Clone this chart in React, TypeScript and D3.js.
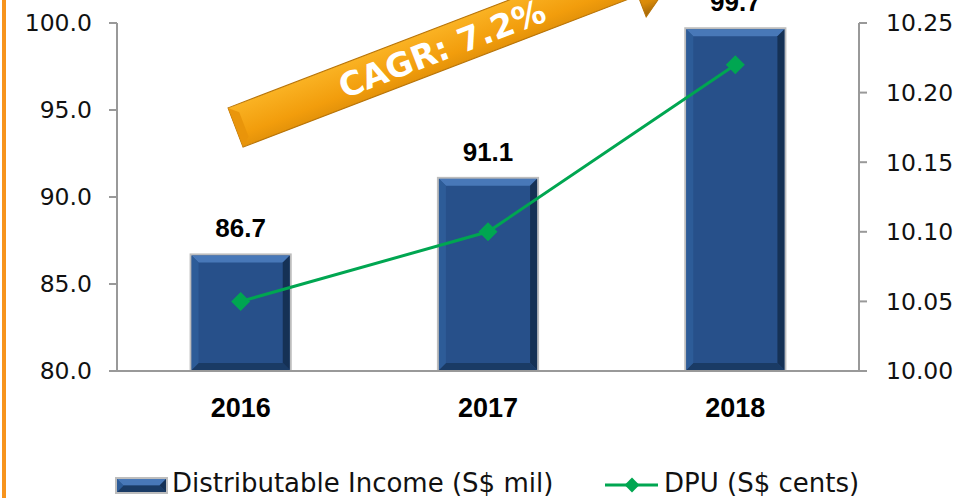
import React, { useEffect, useRef } from 'react';
import * as d3 from 'd3';

// Chart data
const YEARS = ['2016', '2017', '2018'];
const DISTRIBUTABLE_INCOME = [86.7, 91.1, 99.7];
const DPU = [10.05, 10.1, 10.22];
const LEFT_TICKS = [80, 85, 90, 95, 100];
const RIGHT_TICKS = [10.0, 10.05, 10.1, 10.15, 10.2, 10.25];
const CAGR_LABEL = 'CAGR: 7.2%';
const LEGEND_LABELS = ['Distributable Income (S$ mil)', 'DPU (S$ cents)'];

const WIDTH = 963;
const HEIGHT = 498;

const BAR_BLUE = '#27508a';
const LINE_GREEN = '#00a651';
const AXIS_GREY = '#999999';
const FONT = 'DejaVu Sans, sans-serif';
const BOLD_FONT = 'Liberation Sans, Arial, sans-serif';

const App: React.FC = () => {
  const svgRef = useRef<SVGSVGElement>(null);

  useEffect(() => {
    document.body.style.margin = '0';
    if (!svgRef.current) return;
    const svg = d3.select(svgRef.current);
    svg.selectAll('*').remove();

    const plot = { left: 117, right: 859, top: 23, bottom: 371 };

    const x = d3.scaleBand<string>()
      .domain(YEARS)
      .range([plot.left, plot.right])
      .paddingInner(0.595)
      .paddingOuter(0.2975);

    const yLeft = d3.scaleLinear().domain([80, 100]).range([plot.bottom, plot.top]);
    const yRight = d3.scaleLinear().domain([10.0, 10.25]).range([plot.bottom, plot.top]);

    const defs = svg.append('defs');
    const arrowGrad = defs.append('linearGradient')
      .attr('id', 'arrow-grad')
      .attr('x1', 0).attr('y1', 0).attr('x2', 0).attr('y2', 1);
    [
      ['0%', '#ffd466'],
      ['22%', '#fbb526'],
      ['60%', '#f29d0c'],
      ['85%', '#d98a08'],
      ['100%', '#9c6207'],
    ].forEach(([o, c]) => arrowGrad.append('stop').attr('offset', o).attr('stop-color', c));

    // Orange page rule on the left
    svg.append('line')
      .attr('x1', 4).attr('x2', 4)
      .attr('y1', 0).attr('y2', HEIGHT)
      .attr('stroke', '#f7941d')
      .attr('stroke-width', 4);

    // Bars with bevel
    const bevel = 7;
    const drawBar = (g: d3.Selection<SVGGElement, unknown, null, undefined>, bx: number, by: number, bw: number, bh: number) => {
      g.append('rect')
        .attr('x', bx).attr('y', by).attr('width', bw).attr('height', bh)
        .attr('fill', BAR_BLUE)
        .attr('stroke', '#bdbdbd')
        .attr('stroke-width', 2);
      const x0 = bx + 1, x1 = bx + bw - 1, y0 = by + 1, y1 = by + bh - 1;
      const b = Math.min(bevel, bh / 2 - 1, bw / 2 - 1);
      const poly = (pts: [number, number][], fill: string, op: number) =>
        g.append('polygon')
          .attr('points', pts.map(p => p.join(',')).join(' '))
          .attr('fill', fill)
          .attr('opacity', op);
      poly([[x0, y0], [x1, y0], [x1 - b, y0 + b], [x0 + b, y0 + b]], '#4d7cbd', 0.9);
      poly([[x1, y0], [x1, y1], [x1 - b, y1 - b], [x1 - b, y0 + b]], '#142d4f', 0.9);
      poly([[x0, y1], [x1, y1], [x1 - b, y1 - b], [x0 + b, y1 - b]], '#1a3961', 0.9);
      poly([[x0, y0], [x0, y1], [x0 + b, y1 - b], [x0 + b, y0 + b]], '#2f5d99', 0.9);
    };

    const bars = svg.append('g');
    YEARS.forEach((yr, i) => {
      const bx = x(yr)!;
      const by = yLeft(DISTRIBUTABLE_INCOME[i]);
      drawBar(bars, bx, by, x.bandwidth(), plot.bottom - by);
    });

    // Value labels
    svg.append('g')
      .selectAll('text')
      .data(YEARS)
      .enter()
      .append('text')
      .attr('x', d => x(d)! + x.bandwidth() / 2)
      .attr('y', (d, i) => yLeft(DISTRIBUTABLE_INCOME[i]) - 17)
      .attr('text-anchor', 'middle')
      .attr('font-family', BOLD_FONT)
      .attr('font-weight', 'bold')
      .attr('font-size', '26px')
      .attr('fill', '#000')
      .text((d, i) => DISTRIBUTABLE_INCOME[i].toFixed(1));

    // Axes lines
    const axes = svg.append('g').attr('stroke', AXIS_GREY).attr('stroke-width', 2);
    axes.append('line')
      .attr('x1', plot.left).attr('x2', plot.left)
      .attr('y1', plot.top).attr('y2', plot.bottom);
    axes.append('line')
      .attr('x1', plot.right).attr('x2', plot.right)
      .attr('y1', plot.top).attr('y2', plot.bottom);
    axes.append('line')
      .attr('x1', plot.left - 8).attr('x2', plot.right + 8)
      .attr('y1', plot.bottom).attr('y2', plot.bottom);
    LEFT_TICKS.forEach(t => {
      axes.append('line')
        .attr('x1', plot.left - 8).attr('x2', plot.left)
        .attr('y1', yLeft(t)).attr('y2', yLeft(t));
    });
    RIGHT_TICKS.forEach(t => {
      axes.append('line')
        .attr('x1', plot.right).attr('x2', plot.right + 8)
        .attr('y1', yRight(t)).attr('y2', yRight(t));
    });

    // Tick labels
    svg.append('g')
      .selectAll('text')
      .data(LEFT_TICKS)
      .enter()
      .append('text')
      .attr('x', 92)
      .attr('y', d => yLeft(d))
      .attr('dy', '0.36em')
      .attr('text-anchor', 'end')
      .attr('font-family', FONT)
      .attr('font-size', '23.5px')
      .attr('fill', '#111')
      .text(d => d.toFixed(1));

    svg.append('g')
      .selectAll('text')
      .data(RIGHT_TICKS)
      .enter()
      .append('text')
      .attr('x', 886)
      .attr('y', d => yRight(d))
      .attr('dy', '0.36em')
      .attr('text-anchor', 'start')
      .attr('font-family', FONT)
      .attr('font-size', '23.5px')
      .attr('fill', '#111')
      .text(d => d.toFixed(2));

    // Category labels
    svg.append('g')
      .selectAll('text')
      .data(YEARS)
      .enter()
      .append('text')
      .attr('x', d => x(d)! + x.bandwidth() / 2)
      .attr('y', 417)
      .attr('text-anchor', 'middle')
      .attr('font-family', BOLD_FONT)
      .attr('font-weight', 'bold')
      .attr('font-size', '27px')
      .attr('fill', '#000')
      .text(d => d);

    // DPU line
    const pts: [number, number][] = YEARS.map((yr, i) => [x(yr)! + x.bandwidth() / 2, yRight(DPU[i])]);
    svg.append('path')
      .datum(pts)
      .attr('d', d3.line())
      .attr('fill', 'none')
      .attr('stroke', LINE_GREEN)
      .attr('stroke-width', 3);

    const diamond = d3.symbol().type(d3.symbolSquare).size(180);
    svg.append('g')
      .selectAll('path')
      .data(pts)
      .enter()
      .append('path')
      .attr('d', diamond)
      .attr('transform', d => `translate(${d[0]},${d[1]}) rotate(45)`)
      .attr('fill', LINE_GREEN);

    // CAGR arrow
    const arrow = svg.append('g')
      .attr('transform', 'translate(235.5,127.5) rotate(-21)');
    arrow.append('polygon')
      .attr('points', '0,-21 423,-21 423,-44 487,0 423,44 423,21 0,21')
      .attr('fill', 'url(#arrow-grad)')
      .attr('stroke', '#b87408')
      .attr('stroke-width', 1);
    arrow.append('polygon')
      .attr('points', '0,-21 9,-13 9,13 0,21')
      .attr('fill', '#e8930a')
      .attr('opacity', 0.9);
    arrow.append('text')
      .attr('x', 221)
      .attr('y', 12)
      .attr('text-anchor', 'middle')
      .attr('font-family', FONT)
      .attr('font-weight', 'bold')
      .attr('font-size', '33px')
      .attr('fill', '#fff')
      .text(CAGR_LABEL);

    // Legend
    const legend = svg.append('g');
    drawBar(legend, 116, 478, 51, 15);
    legend.append('text')
      .attr('x', 172)
      .attr('y', 492)
      .attr('font-family', FONT)
      .attr('font-size', '26px')
      .attr('fill', '#111')
      .text(LEGEND_LABELS[0]);

    legend.append('line')
      .attr('x1', 605).attr('x2', 658)
      .attr('y1', 485).attr('y2', 485)
      .attr('stroke', LINE_GREEN)
      .attr('stroke-width', 3);
    legend.append('path')
      .attr('d', d3.symbol().type(d3.symbolSquare).size(110))
      .attr('transform', 'translate(632,485) rotate(45)')
      .attr('fill', LINE_GREEN);
    legend.append('text')
      .attr('x', 664)
      .attr('y', 492)
      .attr('font-family', FONT)
      .attr('font-size', '26px')
      .attr('fill', '#111')
      .text(LEGEND_LABELS[1]);
  }, []);

  return (
    <svg
      ref={svgRef}
      width={WIDTH}
      height={HEIGHT}
      viewBox={`0 0 ${WIDTH} ${HEIGHT}`}
      style={{ display: 'block', background: '#fff', overflow: 'hidden' }}
    />
  );
};

export default App;
